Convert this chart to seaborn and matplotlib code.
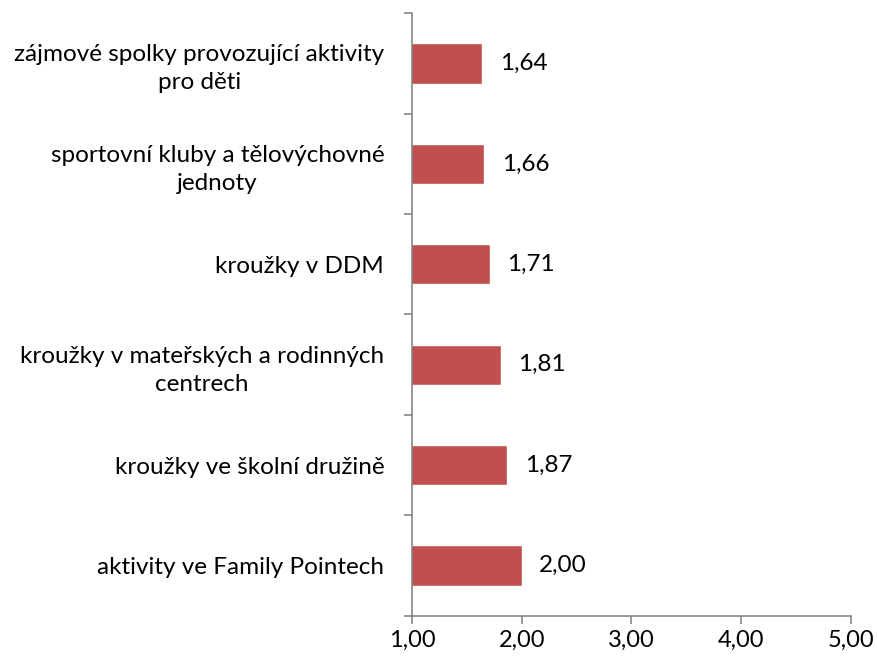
import numpy as np
import pandas as pd
import matplotlib
matplotlib.use('Agg')
import matplotlib.pyplot as plt
import seaborn as sns

sns.set_style('white')
plt.rcParams['font.family'] = ['Lato', 'DejaVu Sans']
plt.rcParams['text.color'] = 'black'
plt.rcParams['xtick.labelcolor'] = 'black'
plt.rcParams['ytick.labelcolor'] = 'black'

# data, top to bottom
labels = ['zájmové spolky provozující aktivity\npro děti',
          'sportovní kluby a tělovýchovné\njednoty',
          'kroužky v DDM',
          'kroužky v mateřských a rodinných\ncentrech',
          'kroužky ve školní družině',
          'aktivity ve Family Pointech']
values = [1.64, 1.66, 1.71, 1.81, 1.87, 2.00]
xticks = [1, 2, 3, 4, 5]

df = pd.DataFrame({'label': labels, 'value': values})

fig = plt.figure(figsize=(8.77, 6.6), dpi=100)
ax = fig.add_axes([0.4698, 0.067, 0.5002, 0.913])

sns.barplot(data=df, y='label', x='value', orient='h', color='#C0504D',
            saturation=1, width=0.4, ax=ax)

ax.set_xlim(1, 5)
ax.set_ylim(len(labels) - 0.5, -0.5)
ax.set_xticks(xticks)
ax.set_xticklabels([('%.2f' % t).replace('.', ',') for t in xticks])
ax.set_xlabel('')
ax.set_ylabel('')

for s in ['top', 'right']:
    ax.spines[s].set_visible(False)
for s in ['left', 'bottom']:
    ax.spines[s].set_color('#868686')
    ax.spines[s].set_linewidth(1.2)

# y ticks at the band edges, labels centred in bands
ax.set_yticks(np.arange(-0.5, len(labels), 1), minor=True)
ax.tick_params(axis='y', which='major', length=0, pad=20, labelsize=17.5, labelcolor='black')
ax.tick_params(axis='y', which='minor', length=6, width=1.2, color='#868686', direction='out', left=True)
ax.tick_params(axis='x', which='major', length=6, width=1.2, color='#868686', direction='out',
               bottom=True, labelsize=17, pad=4, labelcolor='black')
for t in ax.get_yticklabels():
    t.set_multialignment('center')
    t.set_linespacing(1.4)

for i, v in enumerate(values):
    ax.text(v + 0.16, i, ('%.2f' % v).replace('.', ','), va='center', ha='left',
            fontsize=17.5, color='black')

fig.savefig('out.png', dpi=100)
